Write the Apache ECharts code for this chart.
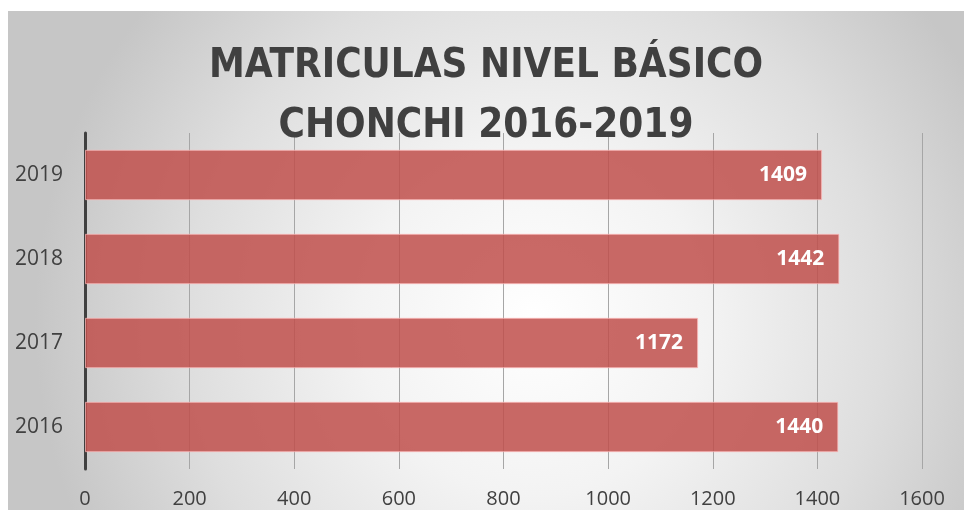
<!DOCTYPE html>
<html>
<head>
<meta charset="utf-8">
<script src="https://cdn.jsdelivr.net/npm/echarts@6/dist/echarts.min.js"></script>
<style>
  html, body { margin: 0; padding: 0; background: #ffffff; }
  #chart { position: absolute; left: 8px; top: 11px; width: 956px; height: 499px; }
</style>
</head>
<body>
<div id="chart"></div>
<script>
// Datos
const years = ['2016', '2017', '2018', '2019'];
const matriculas = [1440, 1172, 1442, 1409];
const titleLines = ['MATRICULAS NIVEL BÁSICO', 'CHONCHI 2016-2019'];

const chart = echarts.init(document.getElementById('chart'));

const option = {
  animation: false,
  backgroundColor: {
    type: 'radial',
    x: 0.55,
    y: 0.62,
    r: 1,
    colorStops: [
      { offset: 0, color: '#ffffff' },
      { offset: 0.35, color: '#f3f3f3' },
      { offset: 0.7, color: '#dedede' },
      { offset: 1, color: '#c6c6c6' }
    ]
  },
  title: {
    text: titleLines.join('\n'),
    left: 'center',
    top: 21,
    textStyle: {
      fontFamily: "'DejaVu Sans Condensed', 'Liberation Sans Narrow', sans-serif",
      fontWeight: 'bold',
      fontSize: 40,
      lineHeight: 60,
      color: '#404040'
    }
  },
  grid: {
    left: 77,
    top: 122,
    width: 837,
    height: 336,
    containLabel: false
  },
  xAxis: {
    type: 'value',
    min: 0,
    max: 1600,
    interval: 200,
    axisLine: { show: false },
    axisTick: { show: false },
    axisLabel: {
      margin: 20,
      fontFamily: 'Open Sans',
      fontSize: 20,
      color: '#404040',
      formatter: (v) => String(v)
    },
    splitLine: {
      show: true,
      lineStyle: { color: '#a6a6a6', width: 1 }
    }
  },
  yAxis: {
    type: 'category',
    data: years,
    axisLine: {
      show: true,
      lineStyle: { color: '#404040', width: 3 }
    },
    axisTick: { show: false },
    axisLabel: {
      margin: 22,
      fontFamily: 'Open Sans',
      fontSize: 21,
      color: '#404040'
    }
  },
  series: [
    {
      type: 'bar',
      data: matriculas,
      barCategoryGap: '40%',
      itemStyle: {
        color: 'rgba(192, 80, 77, 0.86)',
        borderColor: 'rgba(255, 190, 190, 0.7)',
        borderWidth: 1
      },
      label: {
        show: true,
        position: 'insideRight',
        distance: 15,
        color: '#ffffff',
        fontFamily: 'Open Sans',
        fontWeight: 'bold',
        fontSize: 21
      }
    }
  ]
};

chart.setOption(option);
</script>
</body>
</html>
